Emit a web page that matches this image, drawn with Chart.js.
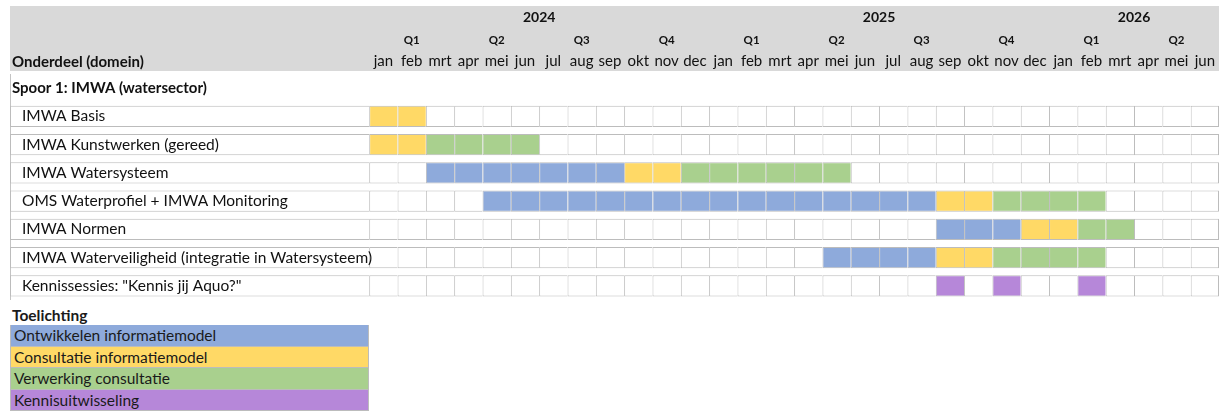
<!DOCTYPE html>
<html>
<head>
<meta charset="utf-8">
<script src="https://cdn.jsdelivr.net/npm/chart.js@4.4.1/dist/chart.umd.min.js"></script>
<style>
  body { margin: 0; background: #fff; font-family: Lato, "Open Sans", sans-serif; }
  #wrap { position: relative; width: 1223px; height: 412px; overflow: hidden; }
  #planning { position: absolute; left: 0; top: 0; }
  #toelichting { position: absolute; left: 10px; top: 305px; width: 359px; color: #1a1a1a; font-size: 15.5px; }
  #toelichting .kop { font-weight: bold; height: 20px; line-height: 20px; padding-left: 2px; font-size: 15.5px; }
  #toelichting .item { height: 21.6px; line-height: 21px; padding-left: 3px; box-sizing: border-box; border: 1px solid #bcbcbc; border-top: none; }
  #toelichting .item:first-of-type { border-top: 1px solid #bcbcbc; }
</style>
</head>
<body>
<div id="wrap">
  <canvas id="planning" width="1223" height="300"></canvas>
  <div id="toelichting"></div>
</div>
<script>
// ---- data (maand 0 = jan 2024) ----
const months = ['jan','feb','mrt','apr','mei','jun','jul','aug','sep','okt','nov','dec',
                'jan','feb','mrt','apr','mei','jun','jul','aug','sep','okt','nov','dec',
                'jan','feb','mrt','apr','mei','jun'];
const quarters = ['Q1','Q2','Q3','Q4','Q1','Q2','Q3','Q4','Q1','Q2'];
const years = ['2024','2025','2026'];
const monthsPerYear = [12, 12, 6];

const rows = [
  'Spoor 1: IMWA (watersector)',
  'IMWA Basis',
  'IMWA Kunstwerken (gereed)',
  'IMWA Watersysteem',
  'OMS Waterprofiel + IMWA Monitoring',
  'IMWA Normen',
  'IMWA Waterveiligheid (integratie in Watersysteem)',
  'Kennissessies: "Kennis jij Aquo?"'
];

// per rij: [eerste maand, laatste maand] of null
const ontwikkelen = [null, null, null, [2, 8], [4, 19], [20, 22], [16, 19], null];
const consultatie = [null, [0, 1], [0, 1], [9, 10], [20, 21], [23, 24], [20, 21], null];
const verwerking  = [null, null, [2, 5], [11, 16], [22, 25], [25, 26], [22, 25], null];
// losse maanden met een kennissessie (laatste rij)
const kennissessies = [20, 22, 25];

const legendLabels = ['Ontwikkelen informatiemodel', 'Consultatie informatiemodel',
                      'Verwerking consultatie', 'Kennisuitwisseling'];
const legendColors = ['#8eaadb', '#ffd966', '#a9d08e', '#b687d9'];

// ---- opbouw ----
const labelCols = 12.68;   // breedte van de kolom "Onderdeel" in maand-eenheden
const cellBorder = '#bcbcbc';

function inSpan(span, m) { return span && m >= span[0] && m <= span[1]; }

function cellColor(r, m) {
  if (inSpan(ontwikkelen[r], m)) return legendColors[0];
  if (inSpan(consultatie[r], m)) return legendColors[1];
  if (inSpan(verwerking[r], m)) return legendColors[2];
  if (r === rows.length - 1 && kennissessies.includes(m)) return legendColors[3];
  return '#ffffff';
}

const barStyle = { grouped: false, barPercentage: 0.76, categoryPercentage: 1, borderSkipped: false,
                   borderColor: cellBorder, xAxisID: 'x', yAxisID: 'y' };

const datasets = [];
// witte vakken van de kolom met de namen
datasets.push(Object.assign({
  data: rows.map((r, i) => i === 0 ? null : [-labelCols, 0]),
  backgroundColor: '#ffffff',
  borderWidth: { top: 1, bottom: 1, left: 1, right: 0 }
}, barStyle));

months.forEach((m, mi) => {
  datasets.push(Object.assign({
    data: rows.map((r, i) => i === 0 ? null : [mi, mi + 1]),
    backgroundColor: rows.map((r, i) => cellColor(i, mi)),
    borderWidth: { top: 1, bottom: 1, left: 1, right: mi === months.length - 1 ? 1 : 0 }
  }, barStyle));
});

// ticks in het midden van de maanden / kwartalen / jaren
let yearCenters = [], start = 0;
monthsPerYear.forEach(n => { yearCenters.push(start + n / 2); start += n; });

const sheetBackground = {
  id: 'sheetBackground',
  beforeDraw(chart) {
    const { ctx, chartArea, scales } = chart;
    ctx.save();
    ctx.fillStyle = '#d9d9d9';
    ctx.fillRect(chartArea.left, scales.xYear.top, chartArea.right - chartArea.left, chartArea.top - 3 - scales.xYear.top);
    ctx.strokeStyle = '#c4c4c4';
    ctx.lineWidth = 1;
    ctx.beginPath();
    ctx.moveTo(chartArea.left + 0.5, chartArea.top);
    ctx.lineTo(chartArea.left + 0.5, chartArea.bottom);
    ctx.stroke();
    ctx.fillStyle = '#111';
    ctx.font = 'bold 15px Lato';
    ctx.textBaseline = 'middle';
    ctx.fillText('Onderdeel (domein)', chartArea.left + 2, 62);
    ctx.restore();
  }
};

const topAxis = (weight, height, font, padding, ticksAt, labels) => ({
  type: 'linear', position: 'top', weight: weight,
  min: -labelCols, max: months.length,
  grid: { display: false, drawTicks: false, tickLength: 0 }, border: { display: false },
  afterBuildTicks: s => { s.ticks = ticksAt.map(v => ({ value: v })); },
  afterFit: s => { s.height = height; },
  ticks: { autoSkip: false, maxRotation: 0, padding: padding, color: '#111', font: font,
           callback: (v, i) => labels[i] }
});

const leftAxis = (weight, padding, font, callback) => ({
  type: 'category', position: 'left', offset: true, weight: weight,
  grid: { display: false, drawTicks: false, tickLength: 0 }, border: { display: false },
  afterFit: s => { s.width = 0; s.paddingTop = 0; s.paddingBottom = 0; },
  ticks: { mirror: true, z: 1, padding: padding, color: '#111', font: font, callback: callback }
});

new Chart('planning', {
  type: 'bar',
  data: { labels: rows, datasets: datasets },
  options: {
    indexAxis: 'y',
    responsive: false,
    animation: false,
    layout: { padding: { left: 10, right: 4, top: 6, bottom: 0 } },
    plugins: { legend: { display: false }, tooltip: { enabled: false } },
    scales: {
      y: leftAxis(0, 12, { family: 'Lato', size: 15.5 }, (v, i) => i === 0 ? '' : rows[i]),
      y2: leftAxis(1, 2, { family: 'Lato', size: 15, weight: 'bold' }, (v, i) => i === 0 ? rows[0] : ''),
      x: topAxis(1, 24, { family: 'Lato', size: 15 }, 3.5, months.map((m, i) => i + 0.5), months),
      xQuarter: topAxis(2, 22, { family: 'Lato', size: 11.5, weight: 'bold' }, 3, quarters.map((q, i) => i * 3 + 1.5), quarters),
      xYear: topAxis(3, 22, { family: 'Lato', size: 14, weight: 'bold' }, 2.5, yearCenters, years)
    }
  },
  plugins: [sheetBackground]
});

// toelichting (legenda)
const box = document.getElementById('toelichting');
box.innerHTML = '<div class="kop">Toelichting</div>' +
  legendLabels.map((l, i) => '<div class="item" style="background:' + legendColors[i] + '">' + l + '</div>').join('');
</script>
</body>
</html>
